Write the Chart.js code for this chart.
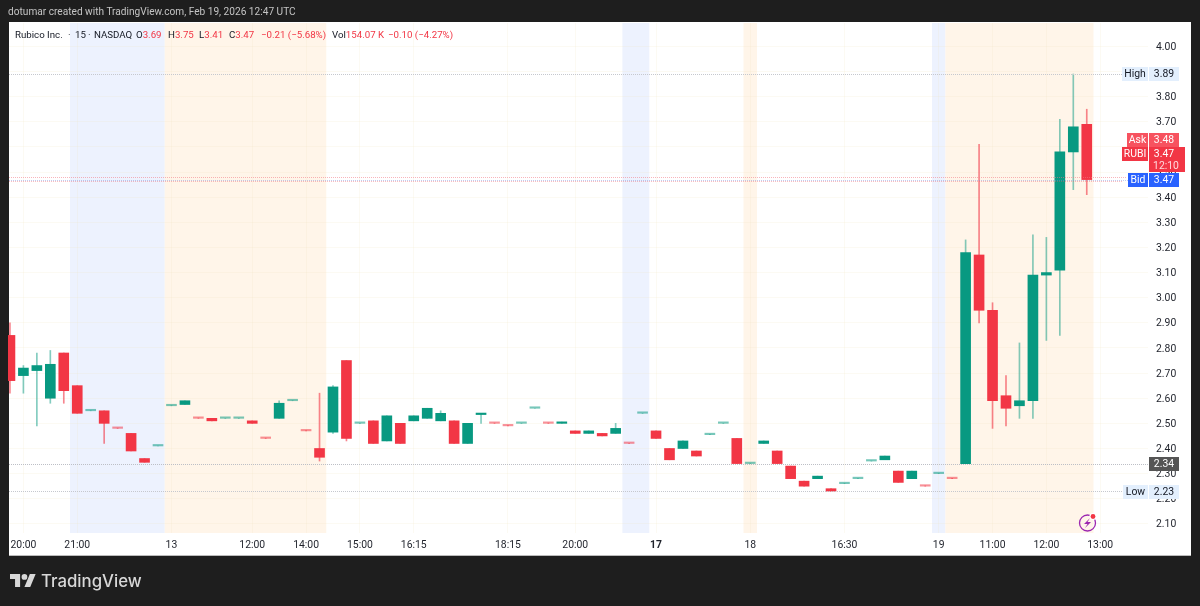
<!DOCTYPE html>
<html><head><meta charset="utf-8">
<style>
html,body{margin:0;padding:0;background:#1e1e1e;width:1200px;height:606px;overflow:hidden;font-family:Roboto,sans-serif}
#panel{position:absolute;left:9px;top:22px;width:1182px;height:534px;background:#fff;border-bottom:1px solid #bbb;box-sizing:border-box}
canvas{position:absolute;left:0;top:0}
.t{position:absolute;white-space:nowrap}
#credit{left:8px;top:6px;font-size:10.15px;color:#c4c4c4}
.h{top:29px;font-size:9.7px;color:#131722}
.r{color:#f23645}
#logoText{left:41px;top:571px;font-family:Inter,sans-serif;font-weight:500;font-size:16.8px;color:#d8d8d8}
#logo{position:absolute;left:10px;top:574px}
</style></head><body>
<div id="panel"></div>
<canvas id="c" width="1200" height="606"></canvas>
<div class="t" id="credit">dotumar created with TradingView.com, Feb 19, 2026 12:47 UTC</div>
<div class="t h" style="left:15px">Rubico Inc.</div>
<div class="t h" style="left:68px">·</div>
<div class="t h" style="left:75px">15</div>
<div class="t h" style="left:88px">·</div>
<div class="t h" style="left:94px">NASDAQ</div>
<div class="t h" style="left:136px">O<span class="r">3.69</span></div>
<div class="t h" style="left:168px">H<span class="r">3.75</span></div>
<div class="t h" style="left:199px">L<span class="r">3.41</span></div>
<div class="t h" style="left:229px">C<span class="r">3.47</span></div>
<div class="t h r" style="left:261px">−0.21 (−5.68%)</div>
<div class="t h" style="left:332px">Vol<span class="r">154.07 K</span></div>
<div class="t h r" style="left:388px">−0.10 (−4.27%)</div>
<svg id="logo" width="26" height="13" viewBox="0 4 36 18"><path fill="#d8d8d8" d="M14 22H7V11H0V4h14v18zM28 22h-8l7.5-18h8L28 22z"/><circle fill="#d8d8d8" cx="20" cy="8" r="4"/></svg>
<div class="t" id="logoText">TradingView</div>
<script src="https://cdn.jsdelivr.net/npm/chart.js@4/dist/chart.umd.min.js"></script>
<script>
const opens =[2.85,2.69,2.71,2.60,2.78,2.65,2.55,2.55,2.481,2.46,2.36,2.41,2.57,2.575,2.521,2.52,2.52,2.52,2.51,2.441,2.52,2.59,2.471,2.40,2.465,2.75,2.50,2.51,2.43,2.50,2.51,2.52,2.51,2.51,2.42,2.535,2.501,2.491,2.50,2.56,2.501,2.50,2.47,2.46,2.46,2.46,2.421,2.54,2.47,2.40,2.40,2.39,2.455,2.50,2.44,2.34,2.42,2.39,2.33,2.27,2.28,2.24,2.26,2.28,2.35,2.355,2.31,2.28,2.251,2.30,2.281,2.34,3.17,2.95,2.61,2.57,2.59,3.09,3.11,3.58,3.69];
const highs =[2.90,2.73,2.78,2.79,2.78,2.65,2.55,2.55,2.481,2.46,2.36,2.41,2.57,2.59,2.521,2.52,2.52,2.52,2.51,2.441,2.59,2.59,2.471,2.62,2.65,2.75,2.50,2.51,2.53,2.50,2.53,2.56,2.55,2.51,2.50,2.54,2.501,2.491,2.50,2.56,2.501,2.505,2.47,2.47,2.46,2.50,2.421,2.54,2.47,2.40,2.43,2.39,2.455,2.50,2.44,2.34,2.43,2.39,2.33,2.27,2.29,2.24,2.26,2.28,2.35,2.37,2.31,2.31,2.251,2.30,2.281,3.23,3.61,2.98,2.69,2.82,3.25,3.24,3.71,3.89,3.75];
const lows  =[2.62,2.62,2.49,2.58,2.58,2.54,2.55,2.42,2.48,2.39,2.345,2.41,2.57,2.575,2.52,2.51,2.52,2.52,2.50,2.44,2.52,2.59,2.47,2.35,2.46,2.43,2.50,2.42,2.43,2.42,2.51,2.52,2.51,2.42,2.42,2.50,2.50,2.49,2.50,2.56,2.50,2.50,2.46,2.46,2.45,2.46,2.42,2.54,2.44,2.355,2.40,2.37,2.455,2.50,2.34,2.34,2.42,2.34,2.28,2.25,2.28,2.23,2.26,2.28,2.35,2.355,2.265,2.28,2.25,2.30,2.28,2.34,2.90,2.48,2.49,2.52,2.52,2.83,2.85,3.43,3.41];
const closes=[2.67,2.72,2.73,2.735,2.63,2.54,2.55,2.50,2.48,2.39,2.345,2.41,2.57,2.59,2.52,2.51,2.52,2.52,2.50,2.44,2.58,2.59,2.47,2.365,2.645,2.44,2.50,2.42,2.53,2.42,2.53,2.56,2.54,2.42,2.50,2.54,2.50,2.49,2.50,2.56,2.50,2.505,2.46,2.47,2.45,2.48,2.42,2.54,2.44,2.355,2.43,2.37,2.455,2.50,2.34,2.34,2.43,2.34,2.28,2.25,2.29,2.23,2.26,2.28,2.35,2.37,2.265,2.31,2.25,2.30,2.28,3.18,2.95,2.59,2.56,2.59,3.09,3.10,3.58,3.68,3.47];
const tickIdx =[1,5,12,18,22,26,30,37,42,48,55,62,69,73,77,81];
const tickText=["20:00","21:00","13","12:00","14:00","15:00","16:15","18:15","20:00","17","18","16:30","19","11:00","12:00","13:00"];
const boldTicks=["17"];
const priceTicks=[2.1,2.2,2.3,2.4,2.5,2.6,2.7,2.8,2.9,3.0,3.1,3.2,3.3,3.4,3.5,3.6,3.7,3.8,3.9,4.0];
const blueBands=[[4.46,11.5],[45.5,47.5],[68.5,69.5]];
const orangeBands=[[11.5,23.5],[54.5,55.5],[69.5,80.5]];
const highLevel=3.89, lowLevel=2.23, prevClose=2.34, askLevel=3.48, bidLevel=3.47, lastLevel=3.47;

const UP='#089981',DN='#f23645',UPW='rgba(8,153,129,.5)',DNW='rgba(242,54,69,.6)',UPF='rgba(8,153,129,.55)',DNF='rgba(242,54,69,.55)';
const isUp=i=>closes[i]>=opens[i];
const isFlat=i=>Math.abs(closes[i]-opens[i])<0.004;
const FONT='Roboto,sans-serif';

const overlay={id:'overlay',
 beforeDraw(ch){
  const {ctx,scales:{x},chartArea:a}=ch;
  const fill=(bands,col)=>{ctx.fillStyle=col;bands.forEach(b=>{const l=x.getPixelForValue(b[0]),r=x.getPixelForValue(b[1]);ctx.fillRect(l,a.top,r-l,a.bottom-a.top);});};
  fill(blueBands,'#edf2fe');fill(orangeBands,'#fff5e9');
 },
 afterDatasetsDraw(ch){
  const {ctx,scales:{y},chartArea:a}=ch;
  const line=(v,col,r)=>{ctx.save();ctx.strokeStyle=col;ctx.lineWidth=1;ctx.setLineDash([1,1]);const p=Math.round(y.getPixelForValue(v))+.5;ctx.beginPath();ctx.moveTo(a.left,p);ctx.lineTo(r,p);ctx.stroke();ctx.restore();};
  line(highLevel,'#c6c8ce',1122);line(lowLevel,'#c6c8ce',1122);line(prevClose,'#bdbfc6',1149);
  line(askLevel,'rgba(242,120,130,.55)',1127);line(lastLevel-0.005,'rgba(242,90,100,.4)',1122);line(bidLevel,'rgba(120,140,220,.45)',1128);
 },
 afterDraw(ch){
  const {ctx,scales:{y}}=ch;
  const yp=v=>Math.round(y.getPixelForValue(v)+.4);
  const box=(l,t,w,h,bg)=>{ctx.fillStyle=bg;ctx.fillRect(l,t,w,h);};
  const txt=(s,cx,cy,col)=>{ctx.fillStyle=col;ctx.textAlign='center';ctx.textBaseline='middle';ctx.font='10.4px '+FONT;ctx.fillText(s,cx,cy+.5);};
  const tag=(name,val,cy,lbg,lcol,vbg,vcol,lw)=>{const t=cy-7;
    box(1148-lw,t,lw,14,lbg);txt(name,1148-lw/2,cy,lcol);
    box(1149,t,30,14,vbg);txt(val,1164,cy,vcol);};
  tag('High',highLevel.toFixed(2),yp(highLevel),'#e3effd','#131722','#e3effd','#131722',26);
  tag('Low',lowLevel.toFixed(2),yp(lowLevel),'#e3effd','#131722','#e3effd','#131722',25);
  const bidY=yp(bidLevel);
  tag('Bid',bidLevel.toFixed(2),bidY,'#2962ff','#fff','#2962ff','#fff',20);
  const rT=bidY-33;
  box(1122,rT,26,14,'#f23645');txt('RUBI',1135,rT+7,'#fff');
  box(1149,rT,36,25,'#f23645');txt(lastLevel.toFixed(2),1164,rT+7,'#fff');txt('12:10',1166,rT+18.5,'#ffd9dc');
  tag('Ask',askLevel.toFixed(2),rT-7,'#f7525f','#fff','#f7525f','#fff',21);
  const pY=yp(prevClose);
  box(1149,pY-7,30,14,'#555');txt(prevClose.toFixed(2),1164,pY,'#fff');
  ctx.save();ctx.strokeStyle='#9c27b0';ctx.lineWidth=1.3;ctx.beginPath();ctx.arc(1087.5,523,8,0,Math.PI*2);ctx.stroke();
  ctx.fillStyle='#9c27b0';ctx.beginPath();ctx.moveTo(1090,518);ctx.lineTo(1084,524);ctx.lineTo(1087.5,524);ctx.lineTo(1085,528);ctx.lineTo(1091,522);ctx.lineTo(1087.5,522);ctx.closePath();ctx.fill();
  ctx.fillStyle='#fff';ctx.beginPath();ctx.arc(1093,516.5,3.6,0,Math.PI*2);ctx.fill();
  ctx.fillStyle='#f23645';ctx.beginPath();ctx.arc(1093,516.5,2.4,0,Math.PI*2);ctx.fill();ctx.restore();
 }};

new Chart(document.getElementById('c'),{
 type:'bar',
 data:{datasets:[
  {label:'wick',data:highs.map((h,i)=>({x:i,y:[lows[i],h]})),grouped:false,barThickness:1,order:2,
   backgroundColor:c=>isUp(c.dataIndex)?UPW:DNW,clip:{left:1,top:0,right:0,bottom:0}},
  {label:'body',data:opens.map((o,i)=>({x:i,y:[o,closes[i]]})),grouped:false,barThickness:10,minBarLength:1.5,order:1,
   backgroundColor:c=>isFlat(c.dataIndex)?(isUp(c.dataIndex)?UPF:DNF):(isUp(c.dataIndex)?UP:DN),clip:{left:1,top:0,right:0,bottom:0}}
 ]},
 plugins:[overlay],
 options:{
  responsive:false,animation:false,devicePixelRatio:1,
  layout:{padding:{left:9,right:0,top:23,bottom:0}},
  plugins:{legend:{display:false},tooltip:{enabled:false},title:{display:false}},
  scales:{
   x:{type:'linear',min:-0.07,max:84.55,offset:false,border:{display:false},
    grid:{offset:false,color:'rgba(240,228,190,.18)',drawTicks:false},
    afterBuildTicks(s){s.ticks=tickIdx.map(v=>({value:v}));},
    afterFit(s){s.height=73;},
    ticks:{autoSkip:false,maxRotation:0,minRotation:0,padding:6,color:'#1f222b',
     font:c=>({family:FONT,size:10.4,weight:(c.tick&&boldTicks.includes(c.tick.label))?'700':'400'}),
     callback:v=>tickText[tickIdx.indexOf(v)]}},
   y:{type:'linear',position:'right',min:2.0637,max:4.0931,border:{display:false},
    grid:{color:'rgba(240,228,190,.18)',drawTicks:false},
    afterBuildTicks(s){s.ticks=priceTicks.map(v=>({value:v}));},
    afterFit(s){s.width=52;},
    ticks:{padding:8,labelOffset:1,color:'#1f222b',font:{family:FONT,size:10.4},callback:v=>v.toFixed(2)}}
  }
 }
});
</script>
</body></html>
